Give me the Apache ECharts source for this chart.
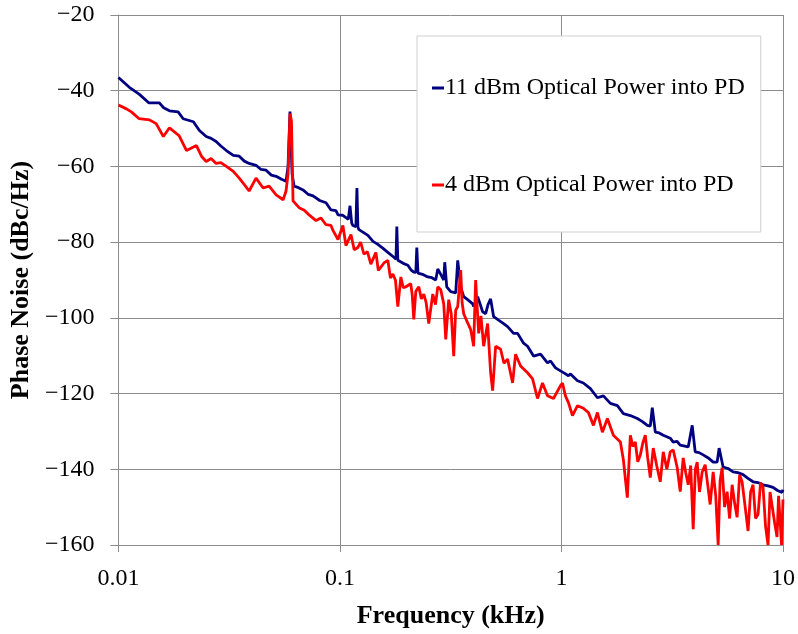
<!DOCTYPE html>
<html lang="en">
<head>
  <meta charset="UTF-8">
  <title>Phase Noise</title>
  <style>
    body { margin: 0; background: #fff; }
    #main { width: 798px; height: 634px; }
  </style>
</head>
<body>
  <div id="main"></div>
  <script src="https://cdn.jsdelivr.net/npm/echarts@6/dist/echarts.min.js"></script>
  <script>
    // [frequency (kHz), phase noise (dBc/Hz)]
    // 11 dBm optical power into PD
    const noise11 = [
      [0.0100,-36.5],[0.0112,-39.1],[0.0124,-40.9],[0.0137,-43.2],[0.0153,-43.2],[0.0160,-44.5],
      [0.0170,-45.3],[0.0186,-45.6],[0.0196,-47.4],[0.0218,-48.2],[0.0232,-50.5],[0.0249,-52.1],
      [0.0262,-52.6],[0.0276,-53.4],[0.0290,-54.6],[0.0307,-55.8],[0.0330,-57.1],[0.0351,-57.3],
      [0.0370,-58.6],[0.0389,-59.2],[0.0418,-59.7],[0.0440,-60.8],[0.0464,-61.0],[0.0490,-62.3],
      [0.0515,-62.6],[0.0545,-63.4],[0.0571,-63.9],[0.0583,-60],[0.0595,-45.5],[0.0608,-62],
      [0.0621,-65.2],[0.0650,-65.6],[0.0681,-66.2],[0.0720,-67.4],[0.0756,-67.8],[0.0810,-69.0],
      [0.0865,-69.6],[0.0911,-71.5],[0.0959,-71.7],[0.0980,-72.8],[0.1030,-72.9],[0.1064,-73.5],
      [0.1090,-74],[0.1110,-70.4],[0.1130,-75],[0.1144,-75.6],[0.1180,-75.9],[0.1193,-65.7],
      [0.1205,-76],[0.1218,-76.7],[0.1280,-77.5],[0.1337,-78.2],[0.1410,-79.8],[0.1483,-80.6],
      [0.1560,-81.6],[0.1645,-82.7],[0.1751,-84.0],[0.1790,-84.5],[0.1806,-75.9],[0.1825,-84.8],
      [0.1844,-85.3],[0.1930,-85.6],[0.2025,-86.1],[0.2090,-87.3],[0.2154,-87.9],[0.2200,-88],
      [0.2223,-81.4],[0.2250,-88.2],[0.2270,-88.4],[0.2380,-88.6],[0.2491,-89.2],[0.2600,-89.4],
      [0.2706,-90.0],[0.2764,-87.1],[0.2851,-88.5],[0.2941,-90.0],[0.2972,-85.3],[0.3034,-91.8],
      [0.3162,-93.1],[0.3228,-92.6],[0.3331,-93.4],[0.3401,-84.8],[0.3508,-91.8],[0.3619,-94.4],
      [0.3772,-95.2],[0.3973,-96.3],[0.4014,-97.0],[0.4184,-94.4],[0.4407,-98.4],[0.4547,-98.9],
      [0.4660,-96.5],[0.4788,-95.0],[0.4940,-99.7],[0.5200,-100.6],[0.5480,-101.5],[0.5712,-102.3],
      [0.6078,-104.1],[0.6337,-104.1],[0.6743,-106.7],[0.7028,-107.5],[0.7480,-110.1],[0.8043,-109.6],
      [0.8648,-111.9],[0.8923,-111.4],[0.9400,-113.2],[0.9897,-114.0],[1.030,-114.6],[1.075,-115.3],
      [1.098,-114.8],[1.181,-116.6],[1.256,-117.2],[1.351,-118.7],[1.453,-121.1],[1.546,-120.6],
      [1.663,-122.6],[1.788,-123.2],[1.903,-125.3],[2.046,-125.8],[2.200,-126.6],[2.320,-127.4],
      [2.441,-128.4],[2.517,-128.6],[2.570,-123.7],[2.652,-130.2],[2.760,-130.4],[2.880,-131.0],
      [3.097,-131.8],[3.195,-132.8],[3.320,-132.6],[3.436,-133.6],[3.734,-134.1],[3.892,-128.4],
      [4.014,-135.4],[4.180,-135.6],[4.361,-136.2],[4.600,-137.0],[4.839,-138.1],[5.043,-138.1],
      [5.148,-134.4],[5.365,-139.4],[5.650,-139.8],[5.954,-140.7],[6.250,-140.9],[6.604,-141.4],
      [6.950,-142.4],[7.325,-143.3],[7.700,-143.5],[8.128,-144.1],[8.560,-144.4],[9.016,-144.8],
      [9.450,-145.6],[9.897,-146.1],[10.0,-145.4]
    ];

    // 4 dBm optical power into PD
    const noise4 = [
      [0.0100,-43.8],[0.01087,-44.8],[0.01144,-45.6],[0.0124,-47.4],[0.0138,-47.7],[0.0148,-48.7],
      [0.01595,-52.1],[0.0170,-49.8],[0.0188,-51.9],[0.0203,-55.8],[0.0225,-54.5],[0.0237,-57.3],
      [0.0249,-58.7],[0.0262,-57.9],[0.0276,-59.2],[0.0290,-59.0],[0.0307,-60.0],[0.0330,-61.3],
      [0.0351,-63.1],[0.0370,-64.8],[0.0389,-66.5],[0.0418,-63.1],[0.0450,-65.7],[0.0479,-65.2],
      [0.0515,-67.5],[0.0554,-68.8],[0.0571,-66.5],[0.0583,-62],[0.0595,-46],[0.0604,-48],
      [0.0614,-69.1],[0.0654,-70.9],[0.0690,-71.6],[0.0725,-72.8],[0.0780,-74.3],[0.0820,-73.6],
      [0.0865,-75.4],[0.0911,-75.6],[0.0930,-76.9],[0.0980,-79.3],[0.1031,-75.6],[0.1064,-80.9],
      [0.1121,-78.0],[0.1160,-82.0],[0.1205,-81.4],[0.1240,-80.0],[0.1283,-83.2],[0.1330,-82.5],
      [0.1379,-85.8],[0.1453,-82.7],[0.1490,-87.5],[0.1530,-86.6],[0.1580,-85.5],[0.1645,-84.8],
      [0.1690,-89.5],[0.1733,-88.4],[0.1780,-90.0],[0.1825,-97.0],[0.1883,-89.2],[0.1930,-92.0],
      [0.1983,-91.8],[0.2088,-91.0],[0.2120,-94.0],[0.2154,-100.4],[0.2200,-93.0],[0.2270,-91.8],
      [0.2330,-95.0],[0.2390,-93.7],[0.2450,-96.0],[0.2517,-101.5],[0.2624,-93.7],[0.2700,-96.5],
      [0.2764,-91.8],[0.2851,-92.6],[0.2941,-96.3],[0.3003,-105.7],[0.3097,-95.2],[0.3180,-99.0],
      [0.3263,-110.1],[0.3330,-98.0],[0.3401,-97.0],[0.3508,-87.4],[0.3560,-96.0],[0.3619,-98.9],
      [0.3750,-101.0],[0.3892,-103.1],[0.4014,-107.5],[0.4098,-90.0],[0.4228,-104.1],[0.4330,-99.5],
      [0.4453,-107.5],[0.4642,-101.5],[0.4788,-114.5],[0.4889,-119.2],[0.5043,-107.5],[0.5311,-108.3],
      [0.5500,-112.0],[0.5712,-110.9],[0.6017,-117.2],[0.6206,-109.6],[0.6536,-112.7],[0.7028,-114.5],
      [0.7404,-116.1],[0.7796,-121.3],[0.8212,-117.2],[0.8648,-120.6],[0.9205,-121.3],[0.9897,-117.9],
      [1.0104,-117.2],[1.042,-120.6],[1.075,-122.4],[1.121,-125.8],[1.181,-123.2],[1.256,-123.9],
      [1.323,-125.0],[1.394,-128.4],[1.453,-125.0],[1.530,-130.2],[1.612,-126.6],[1.715,-131.0],
      [1.845,-132.8],[1.903,-137.5],[1.983,-147.5],[2.046,-131.0],[2.100,-134.0],[2.154,-132.8],
      [2.210,-138.0],[2.270,-136.2],[2.330,-133.0],[2.390,-131.0],[2.450,-137.0],[2.517,-142.2],
      [2.596,-134.4],[2.690,-139.0],[2.792,-143.3],[2.880,-135.4],[2.990,-140.0],[3.097,-135.4],
      [3.195,-134.9],[3.331,-139.6],[3.436,-145.9],[3.544,-137.0],[3.640,-141.0],[3.734,-144.1],
      [3.830,-139.0],[3.932,-155.8],[4.020,-140.0],[4.098,-138.1],[4.200,-146.0],[4.317,-140.7],
      [4.453,-138.8],[4.570,-144.0],[4.690,-149.3],[4.839,-140.7],[4.970,-147.0],[5.097,-160],
      [5.200,-143.0],[5.311,-139.6],[5.450,-150.0],[5.593,-145.9],[5.740,-153.0],[5.893,-144.1],
      [6.050,-149.0],[6.205,-152.7],[6.370,-141.5],[6.536,-143.3],[6.750,-150.0],[6.955,-156.3],
      [7.140,-146.0],[7.325,-144.1],[7.520,-153.0],[7.718,-151.9],[7.920,-143.5],[8.128,-144.8],
      [8.340,-155.0],[8.560,-160],[8.740,-146.0],[8.923,-145.9],[9.160,-154.0],[9.397,-157.9],
      [9.550,-147.0],[9.694,-146.7],[9.850,-160],[10.0,-148]
    ];

    const xTickLabels = ['0.01', '0.1', '1', '10'];
    const seriesNames = ['11 dBm Optical Power into PD', '4 dBm Optical Power into PD'];

    const font = 'Liberation Serif';
    const gridColor = '#8c8c8c';

    const myChart = echarts.init(document.getElementById('main'));

    const option = {
      animation: false,
      backgroundColor: '#fff',
      grid: { left: 117, right: 15, top: 15, bottom: 83, containLabel: false },
      legend: {
        orient: 'vertical',
        left: 417,
        top: 36,
        padding: [40, 16, 35, 15],
        itemGap: 73,
        itemWidth: 12,
        itemHeight: 3,
        icon: 'rect',
        backgroundColor: '#fff',
        borderColor: '#cfcfcf',
        borderWidth: 1,
        textStyle: { fontFamily: font, fontSize: 24, color: '#000', padding: [0, 0, 0, -4] },
        data: seriesNames
      },
      xAxis: {
        type: 'log',
        logBase: 10,
        min: 0.01,
        max: 10,
        name: 'Frequency (kHz)',
        nameLocation: 'middle',
        nameGap: 58,
        nameTextStyle: { fontFamily: font, fontSize: 26, fontWeight: 'bold', color: '#000' },
        axisLine: { onZero: false, lineStyle: { color: gridColor, width: 1 } },
        axisTick: { show: true, length: 7, lineStyle: { color: gridColor } },
        minorTick: { show: false },
        axisLabel: {
          fontFamily: font, fontSize: 24, color: '#000', margin: 22,
          formatter: (v, i) => xTickLabels[i]
        },
        splitLine: { show: true, lineStyle: { color: gridColor, width: 1 } }
      },
      yAxis: {
        type: 'value',
        min: -160,
        max: -20,
        interval: 20,
        name: 'Phase Noise (dBc/Hz)',
        nameLocation: 'middle',
        nameGap: 72,
        nameTextStyle: { fontFamily: font, fontSize: 26, fontWeight: 'bold', color: '#000' },
        axisLine: { show: true, lineStyle: { color: gridColor, width: 1 } },
        axisTick: { show: true, length: 8, lineStyle: { color: gridColor } },
        axisLabel: {
          fontFamily: font, fontSize: 24, color: '#000', margin: 24,
          formatter: v => (v < 0 ? '\u2212' + Math.abs(v) : String(v))
        },
        splitLine: { show: true, lineStyle: { color: gridColor, width: 1 } }
      },
      series: [
        {
          name: seriesNames[0],
          type: 'line',
          data: noise11,
          showSymbol: false,
          symbol: 'none',
          lineStyle: { color: '#000080', width: 2.8 },
          itemStyle: { color: '#000080' }
        },
        {
          name: seriesNames[1],
          type: 'line',
          data: noise4,
          showSymbol: false,
          symbol: 'none',
          lineStyle: { color: '#ff0000', width: 2.8 },
          itemStyle: { color: '#ff0000' }
        }
      ]
    };

    myChart.setOption(option);
  </script>
</body>
</html>
